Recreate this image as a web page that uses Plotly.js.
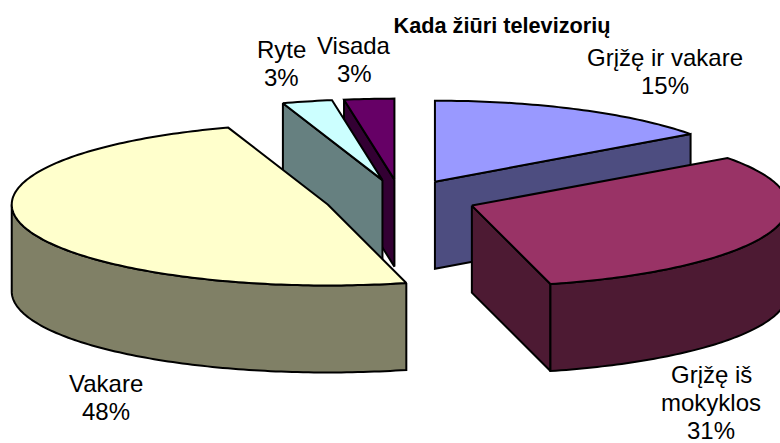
<!DOCTYPE html>
<html>
<head>
<meta charset="utf-8">
<script src="https://cdn.plot.ly/plotly-3.0.1.min.js"></script>
<style>html,body{margin:0;padding:0;background:#fff}</style>
</head>
<body>
<div id="chart" style="width:780px;height:443px"></div>
<script>
// Data
const categories = ["Grįžę ir vakare", "Grįžę iš mokyklos", "Vakare", "Ryte", "Visada"];
const values = [15, 31, 48.9, 2.55, 2.55];
const percentLabels = ["15%", "31%", "48%", "3%", "3%"];
const labelLines = [["Grįžę ir vakare"], ["Grįžę iš", "mokyklos"], ["Vakare"], ["Ryte"], ["Visada"]];

// Styling
const topColors = ["#9999FF", "#993366", "#FFFFCC", "#CCFFFF", "#660066"];
const sideColors = ["#4D4D80", "#4D1A33", "#808066", "#668080", "#330033"];
const labelCenterX = [665, 711, 106, 281, 354];
const labelFirstY = [57, 374, 383, 49, 45];
const labelLineGap = 28;

// Projection of the tilted, exploded pie
const cx = 400.5, cy = 199, rx = 316, ry = 81, depth = 87, explode = 0.24;
const paintOrder = [4, 0, 3, 2, 1];
const rad = d => d * Math.PI / 180;
const total = values.reduce((s, v) => s + v, 0);

const pt = (apex, deg, down) => [
  apex[0] + rx * Math.sin(rad(deg)),
  apex[1] - ry * Math.cos(rad(deg)) + (down || 0)
];
function arc(apex, from, to, down) {
  const out = [], n = Math.max(2, Math.ceil(Math.abs(to - from)));
  for (let i = 0; i <= n; i++) out.push(pt(apex, from + (to - from) * i / n, down));
  return out;
}
function poly(points, fill) {
  const closed = points.concat([points[0]]);
  return {
    type: "scatter", mode: "lines", fill: "toself", fillcolor: fill,
    x: closed.map(p => p[0]), y: closed.map(p => p[1]),
    line: { color: "#000", width: 2, simplify: false },
    hoverinfo: "skip", showlegend: false
  };
}

let running = 0;
const slices = values.map((v, i) => {
  const start = running / total * 360;
  running += v;
  const end = running / total * 360;
  const mid = rad((start + end) / 2);
  return {
    i, start, end,
    apex: [cx + explode * rx * Math.sin(mid), cy - explode * ry * Math.cos(mid)]
  };
});

const traces = [];
paintOrder.forEach(k => {
  const s = slices[k];
  const side = sideColors[k], top = topColors[k];
  const radialFace = deg => poly(
    [s.apex, pt(s.apex, deg), pt(s.apex, deg, depth), [s.apex[0], s.apex[1] + depth]], side);
  if (s.start > 180 && s.start < 360) traces.push(radialFace(s.start));
  if (s.end > 0 && s.end < 180) traces.push(radialFace(s.end));
  const wallFrom = Math.max(s.start, 90), wallTo = Math.min(s.end, 270);
  if (wallTo > wallFrom) {
    traces.push(poly(arc(s.apex, wallFrom, wallTo, 0).concat(arc(s.apex, wallTo, wallFrom, depth)), side));
  }
  traces.push(poly([s.apex].concat(arc(s.apex, s.start, s.end, 0)), top));
});

const annotations = [];
categories.forEach((c, i) => {
  labelLines[i].concat([percentLabels[i]]).forEach((line, j) => {
    annotations.push({
      x: labelCenterX[i], y: labelFirstY[i] + j * labelLineGap,
      xref: "x", yref: "y", text: line, showarrow: false,
      xanchor: "center", yanchor: "middle",
      font: { family: "Liberation Sans, Arial, sans-serif", size: 24, color: "#000" }
    });
  });
});

Plotly.newPlot("chart", traces, {
  width: 780, height: 443,
  margin: { l: 0, r: 0, t: 0, b: 0 },
  paper_bgcolor: "#fff", plot_bgcolor: "#fff",
  title: {
    text: "<b>Kada žiūri televizorių</b>",
    x: 502 / 780, xanchor: "center", xref: "paper",
    y: 1 - 25 / 443, yanchor: "middle", yref: "container",
    font: { family: "Liberation Sans, Arial, sans-serif", size: 21.7, color: "#000" }
  },
  xaxis: { range: [0, 780], visible: false, fixedrange: true },
  yaxis: { range: [443, 0], visible: false, fixedrange: true },
  showlegend: false,
  annotations
}, { displayModeBar: false, staticPlot: true });
</script>
</body>
</html>
